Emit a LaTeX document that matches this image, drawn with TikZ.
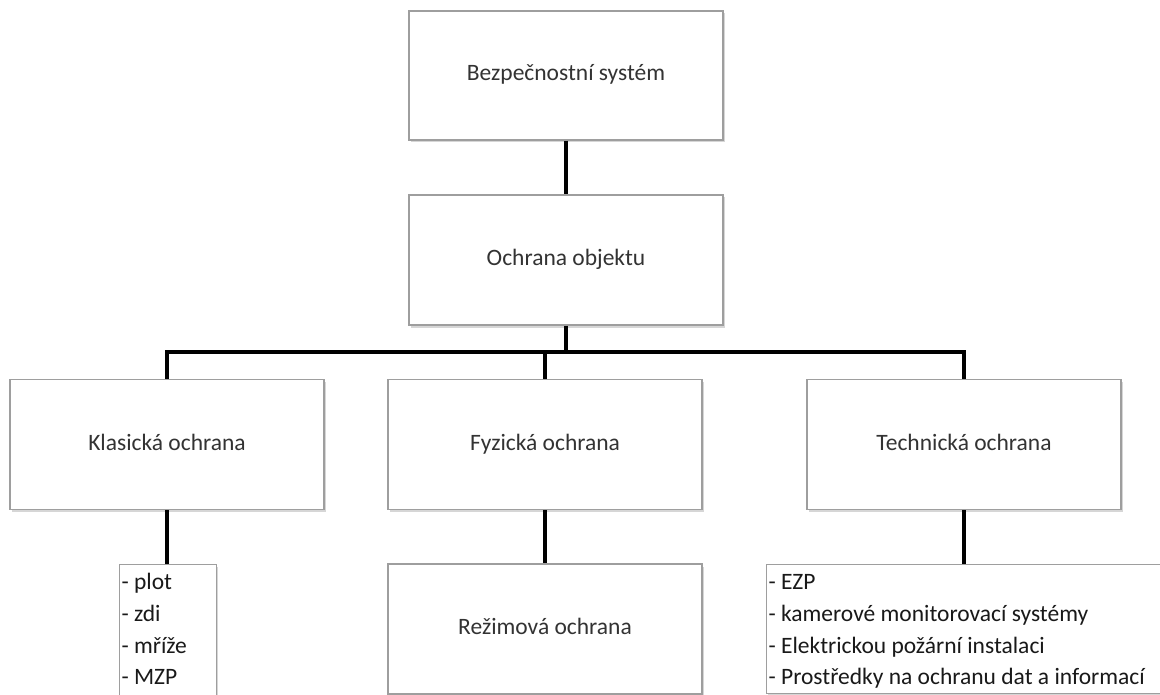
\documentclass[tikz,border=0pt]{standalone}
\usepackage{fontspec}
\setmainfont{Carlito}
\usetikzlibrary{shadows}
\newcommand\lblsize{\fontsize{23.5}{28}\selectfont}
\newcommand\lstsize{\fontsize{23.5}{31.7}\selectfont}
\tikzset{
  box/.style={draw=black!38, line width=1.2pt, fill=white, inner sep=0pt,
    minimum width=314pt, minimum height=130pt, font=\lblsize, text=black!80,
    text height=16pt, text depth=5pt,
    drop shadow={shadow xshift=1.5pt, shadow yshift=-2.5pt, opacity=0.35, fill=black!45}},
  listbox/.style={draw=black!38, line width=1.2pt, fill=white, inner sep=0pt,
    anchor=north west, text=black!90,
    drop shadow={shadow xshift=1.5pt, shadow yshift=-2.5pt, opacity=0.35, fill=black!45}},
  conn/.style={draw=black, line width=4pt, line join=miter}
}
\begin{document}
\begin{tikzpicture}[x=1pt,y=-1pt]
  \clip (0,0) rectangle (1160,695);
  \fill[white] (0,0) rectangle (1160,695);
  % boxes
  \node[box, minimum height=129pt] (b1) at (566,75.5) {Bezpečnostní systém};
  \node[box] (b2) at (566,260) {Ochrana objektu};
  \node[box] (k) at (167,444.5) {Klasická ochrana};
  \node[box] (f) at (545,444.5) {Fyzická ochrana};
  \node[box] (t) at (964,444.5) {Technická ochrana};
  \node[box] (r) at (545,629) {Režimová ochrana};
  \node[listbox] (kl) at (119,564) {\begin{minipage}[t][145pt][t]{97pt}\lstsize\raggedright\leftskip=2pt
    \rule{0pt}{25pt}- plot\\- zdi\\- mříže\\- MZP\end{minipage}};
  \node[listbox] (tl) at (766,564) {\begin{minipage}[t][129pt][t]{396pt}\lstsize\raggedright\leftskip=2pt
    \rule{0pt}{25pt}- EZP\\- kamerové monitorovací systémy\\- Elektrickou požární instalaci\\- Prostředky na ochranu dat a informací\end{minipage}};
  % connectors
  \coordinate (bar) at (0,352);
  \draw[conn] (b1.south) -- (b2.north);
  \draw[conn] (b2.south) -- (b2.south |- bar);
  \draw[conn] (k.north) |- (t.north |- bar) -- (t.north);
  \draw[conn] (f.north) -- (f.north |- bar);
  \draw[conn] (k.south) -- (kl.north -| k.south);
  \draw[conn] (f.south) -- (r.north);
  \draw[conn] (t.south) -- (tl.north -| t.south);
\end{tikzpicture}
\end{document}
